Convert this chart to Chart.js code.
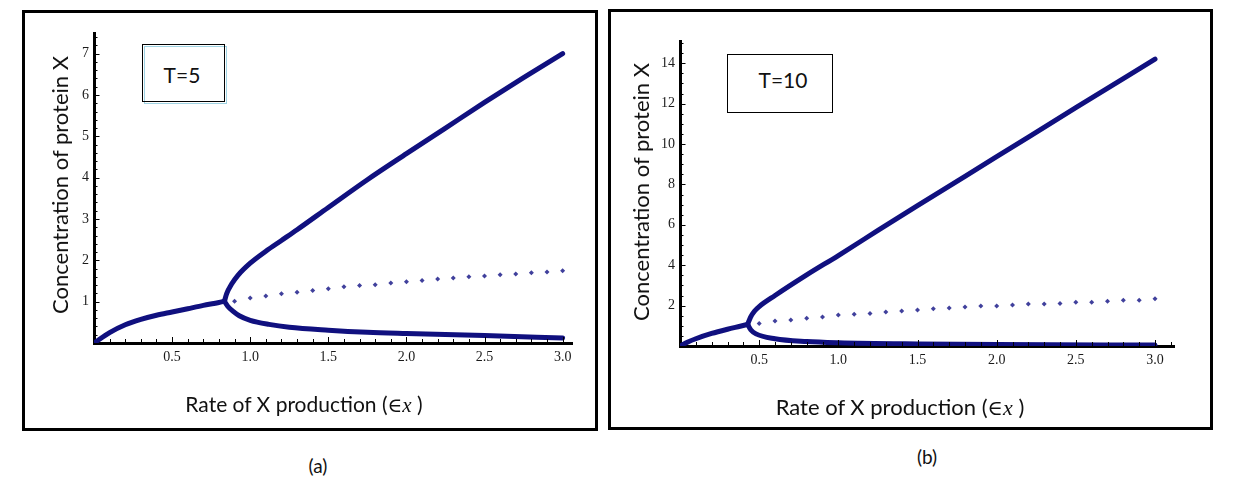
<!DOCTYPE html>
<html><head><meta charset="utf-8">
<script src="https://cdn.jsdelivr.net/npm/chart.js@4.4.0/dist/chart.umd.min.js"></script>
<style>
html,body{margin:0;padding:0;background:#fff;width:1236px;height:488px;overflow:hidden;font-family:Lato,sans-serif;}
.frame{position:absolute;border:3px solid #000;box-sizing:border-box;}
.cv{position:absolute;}
.txt{position:absolute;white-space:nowrap;color:#111;line-height:1;}
.ytitle{transform:translate(-50%,-50%) rotate(-90deg);}
.xtitle{transform:translate(-50%,-50%);}
.box{position:absolute;border:1px solid #000;box-sizing:border-box;background:#fff;}
.eps{font-family:"DejaVu Serif",serif;font-size:0.95em;}
.sub{font-family:"Liberation Serif",serif;font-style:italic;}
</style></head>
<body>
<div class="frame" style="left:22px;top:10px;width:576px;height:421px;"></div>
<div class="frame" style="left:608px;top:9px;width:605px;height:421px;"></div>
<canvas id="cA" class="cv" width="569" height="414" style="left:25px;top:13px;width:569px;height:414px;"></canvas>
<canvas id="cB" class="cv" width="596" height="414" style="left:611px;top:12px;width:596px;height:414px;"></canvas>

<div class="box" style="left:144px;top:46px;width:83px;height:58px;border-color:#9fd3e3;"></div>
<div class="box" style="left:142px;top:44px;width:83px;height:58px;background:transparent;"></div>
<div class="txt xtitle" style="left:182px;top:74px;font-size:21px;">T=5</div>
<div class="box" style="left:727px;top:54px;width:106px;height:59px;"></div>
<div class="txt xtitle" style="left:783px;top:79px;font-size:21px;">T=10</div>

<div class="txt ytitle" style="left:60px;top:185px;font-size:22px;">Concentration of protein X</div>
<div class="txt ytitle" style="left:641px;top:192px;font-size:22px;">Concentration of protein X</div>
<div class="txt xtitle" style="left:304px;top:404px;font-size:21px;">Rate of X production (<span class="eps">∈</span><span class="sub">x</span> )</div>
<div class="txt xtitle" style="left:900px;top:407px;font-size:22px;">Rate of X production (<span class="eps">∈</span><span class="sub">x</span> )</div>
<div class="txt xtitle" style="left:318px;top:465px;font-size:19px;">(a)</div>
<div class="txt xtitle" style="left:927px;top:456px;font-size:19px;">(b)</div>

<script>
// ---------- Panel (a): T=5 ----------
const aLowX  = [0, 0.1, 0.2, 0.3, 0.4, 0.5, 0.6, 0.7, 0.8, 0.835];
const aLowY  = [0, 0.25, 0.44, 0.57, 0.67, 0.75, 0.83, 0.91, 0.98, 1.01];
const aUpX   = [0.835, 0.85, 0.88, 0.92, 1.0, 1.1, 1.2, 1.3, 1.5, 1.75, 2.0, 2.25, 2.5, 2.75, 3.0];
const aUpY   = [1.01, 1.2, 1.42, 1.63, 1.93, 2.22, 2.48, 2.74, 3.28, 3.95, 4.58, 5.2, 5.82, 6.42, 7.0];
const aDownX = [0.835, 0.856, 0.889, 0.93, 1.0, 1.12, 1.25, 1.5, 1.75, 2.0, 2.5, 3.0];
const aDownY = [1.01, 0.89, 0.77, 0.66, 0.55, 0.45, 0.38, 0.31, 0.26, 0.23, 0.18, 0.12];
const aDotX  = [0.9,1.0,1.1,1.2,1.3,1.4,1.5,1.6,1.7,1.8,1.9,2.0,2.1,2.2,2.3,2.4,2.5,2.6,2.7,2.8,2.9,3.0];
const aDotY  = [1.01,1.09,1.14,1.19,1.23,1.27,1.31,1.36,1.39,1.41,1.45,1.48,1.51,1.55,1.57,1.60,1.62,1.65,1.67,1.70,1.72,1.75];
const aXTicks = [0.5, 1.0, 1.5, 2.0, 2.5, 3.0];
const aXLabels = ['0.5','1.0','1.5','2.0','2.5','3.0'];
const aYTicks = [1, 2, 3, 4, 5, 6, 7];
const aYLabels = ['1','2','3','4','5','6','7'];

// ---------- Panel (b): T=10 ----------
const bLowX  = [0, 0.05, 0.1, 0.2, 0.3, 0.38, 0.427];
const bLowY  = [0, 0.2, 0.36, 0.62, 0.83, 0.98, 1.07];
const bUpX   = [0.427, 0.445, 0.47, 0.5, 0.6, 0.8, 1.0, 1.25, 1.5, 2.0, 2.5, 3.0];
const bUpY   = [1.07, 1.42, 1.72, 1.95, 2.5, 3.52, 4.48, 5.72, 6.95, 9.37, 11.8, 14.2];
const bDownX = [0.427, 0.448, 0.48, 0.6, 0.8, 1.0, 1.5, 2.0, 3.0];
const bDownY = [1.07, 0.79, 0.6, 0.36, 0.22, 0.16, 0.10, 0.07, 0.05];
const bDotX  = [0.5,0.6,0.7,0.8,0.9,1.0,1.1,1.2,1.3,1.4,1.5,1.6,1.7,1.8,1.9,2.0,2.1,2.2,2.3,2.4,2.5,2.6,2.7,2.8,2.9,3.0];
const bDotY  = [1.12,1.24,1.29,1.38,1.43,1.53,1.57,1.61,1.68,1.73,1.78,1.85,1.88,1.93,1.98,1.98,2.03,2.08,2.08,2.11,2.17,2.17,2.22,2.27,2.27,2.34];
const bXTicks = [0.5, 1.0, 1.5, 2.0, 2.5, 3.0];
const bXLabels = ['0.5','1.0','1.5','2.0','2.5','3.0'];
const bYTicks = [2, 4, 6, 8, 10, 12, 14];
const bYLabels = ['2','4','6','8','10','12','14'];

const NAVY = '#10107f';
const DOT = '#40409c';

function zip(xs, ys){ return xs.map((x,i)=>({x:x, y:ys[i]})); }

const axisTicks = {
  id: 'axisTicks',
  afterDraw(chart, args, o){
    const {ctx, chartArea:a, scales:{x, y}} = chart;
    ctx.save();
    ctx.strokeStyle = '#000';
    ctx.lineWidth = 1;
    for (let i = 1; ; i++){
      const v = i * o.xMinor; if (v > x.max + 1e-9) break;
      const r = v / o.xMajor, major = Math.abs(r - Math.round(r)) < 1e-6;
      const px = Math.round(x.getPixelForValue(v)) + 0.5;
      ctx.beginPath(); ctx.moveTo(px, a.bottom); ctx.lineTo(px, a.bottom - (major ? 6 : 4)); ctx.stroke();
    }
    for (let i = 1; ; i++){
      const v = i * o.yMinor; if (v > y.max + 1e-9) break;
      const r = v / o.yMajor, major = Math.abs(r - Math.round(r)) < 1e-6;
      const py = Math.round(y.getPixelForValue(v)) + 0.5;
      ctx.beginPath(); ctx.moveTo(a.left, py); ctx.lineTo(a.left + (major ? 5.5 : 3.5), py); ctx.stroke();
    }
    ctx.restore();
  }
};

function makeChart(id, d){
  const curve = (xs, ys) => ({data: zip(xs, ys), showLine:true, borderColor:NAVY, borderWidth:5,
    pointRadius:0, cubicInterpolationMode:'monotone', fill:false, borderCapStyle:'round', borderJoinStyle:'round'});
  new Chart(document.getElementById(id), {
    type: 'scatter',
    data: { datasets: [
      curve(d.lowX, d.lowY),
      curve(d.upX, d.upY),
      curve(d.downX, d.downY),
      {data: zip(d.dotX, d.dotY), showLine:false, pointStyle:'rectRot', pointRadius:2.5,
       backgroundColor:DOT, borderColor:DOT, borderWidth:0}
    ]},
    plugins: [axisTicks],
    options: {
      responsive:false, animation:false, devicePixelRatio:1,
      layout: {padding: d.pad},
      plugins: {legend:{display:false}, tooltip:{enabled:false},
        axisTicks: {xMinor:0.1, xMajor:0.5, yMinor:d.yMinor, yMajor:d.yMajor}},
      scales: {
        x: {type:'linear', min:0, max:d.xMax,
          afterBuildTicks: s => { s.ticks = d.xTicks.map(v => ({value:v})); },
          afterFit: s => { s.height = 22; },
          ticks: {callback: v => d.xLabels[d.xTicks.indexOf(v)], padding:6, autoSkip:false, maxRotation:0,
            font:{family:'"Liberation Serif", serif', size:14}, color:'#1a1a1a'},
          grid: {drawOnChartArea:false, drawTicks:false, color:'rgba(0,0,0,0)'},
          border: {color:'#000', width:3}},
        y: {type:'linear', min:0, max:d.yMax,
          afterBuildTicks: s => { s.ticks = d.yTicks.map(v => ({value:v})); },
          afterFit: s => { s.width = 69; },
          ticks: {callback: v => d.yLabels[d.yTicks.indexOf(v)], padding:5, autoSkip:false,
            font:{family:'"Liberation Serif", serif', size:14}, color:'#1a1a1a'},
          grid: {drawOnChartArea:false, drawTicks:false, color:'rgba(0,0,0,0)'},
          border: {color:'#000', width:3}}
      }
    }
  });
}

makeChart('cA', {lowX:aLowX, lowY:aLowY, upX:aUpX, upY:aUpY, downX:aDownX, downY:aDownY,
  dotX:aDotX, dotY:aDotY, xTicks:aXTicks, xLabels:aXLabels, yTicks:aYTicks, yLabels:aYLabels,
  xMax:3.06, yMax:7.5, yMinor:0.2, yMajor:1, pad:{left:0, top:20, right:22, bottom:62}});
makeChart('cB', {lowX:bLowX, lowY:bLowY, upX:bUpX, upY:bUpY, downX:bDownX, downY:bDownY,
  dotX:bDotX, dotY:bDotY, xTicks:bXTicks, xLabels:bXLabels, yTicks:bYTicks, yLabels:bYLabels,
  xMax:3.12, yMax:15.1, yMinor:0.5, yMajor:2, pad:{left:0, top:29, right:33, bottom:58}});
</script>
</body></html>
